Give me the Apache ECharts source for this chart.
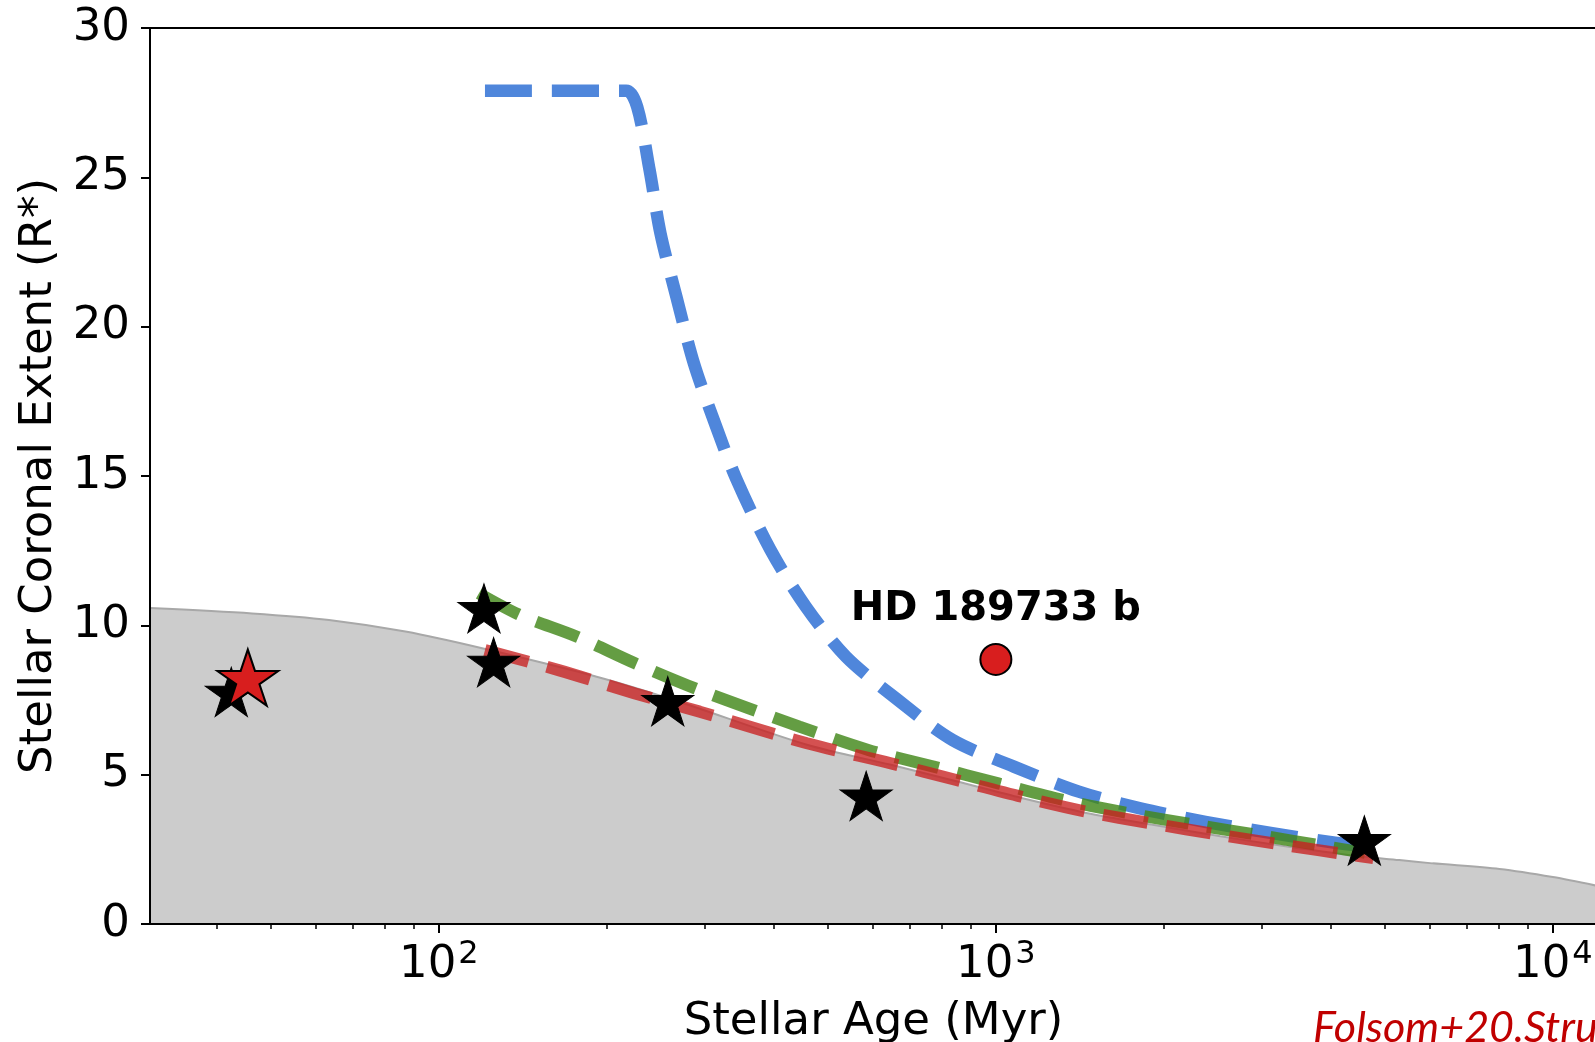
<!DOCTYPE html>
<html>
<head>
<meta charset="utf-8">
<script src="https://cdn.jsdelivr.net/npm/echarts@6/dist/echarts.min.js"></script>
<style>
html,body{margin:0;padding:0;background:#fff;}
#chart{width:1595px;height:1042px;}
</style>
</head>
<body>
<div id="chart"></div>
<script>
// ---------- data ----------
const xMajorTicks = [100, 1000, 10000];
const xMinorTicks = [40, 50, 60, 70, 80, 90, 200, 300, 400, 500, 600, 700, 800, 900, 2000, 3000, 4000, 5000, 6000, 7000, 8000, 9000];

// grey region (upper boundary)
const grayX = [30.3, 46.2, 63.5, 87.1, 119.6, 192, 264, 458, 648, 849, 1112, 1453, 1901, 2530, 3310, 4340, 5300, 6080, 8020, 10000, 12000];
const grayY = [10.58, 10.40, 10.18, 9.79, 9.23, 8.28, 7.50, 6.00, 5.33, 4.78, 4.22, 3.72, 3.33, 2.94, 2.60, 2.30, 2.14, 2.03, 1.84, 1.57, 1.28];

// blue dashed curve
const blueX = [121, 217, 227, 239, 250, 267, 287, 314, 342, 394, 456, 538, 662, 836, 1077, 1409, 1816, 2376, 3133, 4064, 4500];
const blueY = [27.9, 27.9, 27.36, 25.24, 23.12, 21.0, 18.77, 16.7, 14.9, 12.52, 10.62, 8.95, 7.55, 6.16, 5.27, 4.43, 3.87, 3.42, 3.04, 2.72, 2.62];

// green dashed curve
const greenX = [118, 140, 177, 225, 294, 444, 590, 773, 1010, 1321, 1730, 2300, 2960, 3940, 4600];
const greenY = [11.07, 10.34, 9.62, 8.73, 7.83, 6.61, 5.83, 5.27, 4.71, 4.15, 3.71, 3.31, 2.98, 2.59, 2.38];

// red dashed curve
const redX = [121, 164, 225, 294, 458, 648, 849, 1112, 1453, 1901, 2530, 3310, 4340, 4760];
const redY = [9.17, 8.50, 7.72, 7.11, 6.05, 5.38, 4.82, 4.26, 3.76, 3.37, 2.98, 2.64, 2.31, 2.21];

// black star markers
const starX = [42.4, 120.5, 125.4, 257.6, 585, 4587];
const starY = [7.77, 10.57, 8.77, 7.46, 4.29, 2.80];

// red star marker
const redStarX = [45.4];
const redStarY = [8.25];

// planet
const planetName = 'HD 189733 b';
const planetX = [1000];
const planetY = [8.86];

// ---------- helpers ----------
const zip = (xs, ys) => xs.map((x, i) => [x, ys[i]]);
const FONT = 'DejaVu Sans';
const STAR = 'path://M50,0 L61.226,34.549 L97.553,34.549 L68.164,55.902 L79.389,90.451 L50,69.098 L20.611,90.451 L31.836,55.902 L2.447,34.549 L38.774,34.549 Z';

const GRID_TOP = 28, GRID_H = 896;

const chart = echarts.init(document.getElementById('chart'), null, {renderer: 'canvas'});
const option = {
  animation: false,
  backgroundColor: '#ffffff',
  grid: {left: 150, top: GRID_TOP, width: 1447, height: GRID_H, outerBoundsMode: 'none', containLabel: false,
    show: true, borderColor: '#000', borderWidth: 2, backgroundColor: 'transparent'},
  xAxis: [
    {
      type: 'log', logBase: 10, min: 30.3, max: 12000, position: 'bottom', z: 10,
      axisLine: {show: true, lineStyle: {color: '#000', width: 2}},
      axisTick: {show: true, length: 9, lineStyle: {color: '#000', width: 2}, customValues: xMajorTicks},
      splitLine: {show: false},
      axisLabel: {
        customValues: xMajorTicks, margin: 15, color: '#000',
        formatter: v => '{b|10}{s|' + Math.round(Math.log10(v)) + '}',
        rich: {
          b: {fontSize: 45, fontFamily: FONT, color: '#000', verticalAlign: 'bottom'},
          s: {fontSize: 32, fontFamily: FONT, color: '#000', verticalAlign: 'bottom', padding: [0, 0, 17, 2]}
        }
      },
      name: 'Stellar Age (Myr)', nameLocation: 'middle', nameGap: 76,
      nameTextStyle: {fontSize: 45, fontFamily: FONT, color: '#000'}
    },
    {
      type: 'log', logBase: 10, min: 30.3, max: 12000, position: 'top', offset: -GRID_H, z: 10,
      axisLine: {show: false},
      axisTick: {show: true, inside: true, length: 5, lineStyle: {color: '#000', width: 1.5}, customValues: xMinorTicks},
      axisLabel: {show: false},
      splitLine: {show: false}
    }
  ],
  yAxis: {
    type: 'value', min: 0, max: 30, interval: 5, z: 10,
    axisLine: {show: true, lineStyle: {color: '#000', width: 2}},
    axisTick: {show: true, length: 9, lineStyle: {color: '#000', width: 2}},
    splitLine: {show: false},
    axisLabel: {fontSize: 45, fontFamily: FONT, color: '#000', margin: 20},
    name: 'Stellar Coronal Extent (R*)', nameLocation: 'middle', nameGap: 79, nameRotate: 90,
    nameTextStyle: {fontSize: 45, fontFamily: FONT, color: '#000'}
  },
  series: [
    {
      type: 'line', xAxisIndex: 0, data: zip(grayX, grayY), symbol: 'none', smooth: 0.3,
      lineStyle: {color: '#a8a8a8', width: 2},
      areaStyle: {color: '#cccccc', opacity: 1}, z: 1
    },
    {
      type: 'line', xAxisIndex: 0, data: zip(blueX, blueY), symbol: 'none', smooth: 0.3,
      lineStyle: {color: '#4f86db', width: 12.5, type: [47, 20], cap: 'butt', join: 'round'}, z: 2
    },
    {
      type: 'line', xAxisIndex: 0, data: zip(greenX, greenY), symbol: 'none', smooth: 0.3,
      lineStyle: {color: 'rgba(66,136,26,0.82)', width: 12, type: [45, 19], cap: 'butt'}, z: 3
    },
    {
      type: 'line', xAxisIndex: 0, data: zip(redX, redY), symbol: 'none', smooth: 0.3,
      lineStyle: {color: 'rgba(200,32,32,0.78)', width: 12, type: [45, 19], cap: 'butt'}, z: 4
    },
    {
      type: 'scatter', xAxisIndex: 0, data: zip(starX, starY), symbol: STAR, symbolSize: [52, 49],
      itemStyle: {color: '#000', borderColor: '#000', borderWidth: 1, opacity: 1}, z: 5
    },
    {
      type: 'scatter', xAxisIndex: 0, data: zip(redStarX, redStarY), symbol: STAR, symbolSize: [61, 56],
      itemStyle: {color: '#d81e1e', borderColor: '#000', borderWidth: 2, opacity: 1}, z: 6
    },
    {
      type: 'scatter', xAxisIndex: 0, data: zip(planetX, planetY), symbol: 'circle', symbolSize: 31,
      itemStyle: {color: '#d81e1e', borderColor: '#000', borderWidth: 2, opacity: 1}, z: 6,
      label: {show: true, position: 'top', distance: 13, formatter: planetName,
        fontSize: 40, fontWeight: 'bold', fontFamily: FONT, color: '#000'}
    }
  ],
  graphic: [
    {type: 'text', left: 1313, top: 1007, z: 100,
      style: {text: 'Folsom+20.Structure', font: 'italic 43px Lato', fill: '#c00000'}}
  ]
};
chart.setOption(option);
</script>
</body>
</html>
